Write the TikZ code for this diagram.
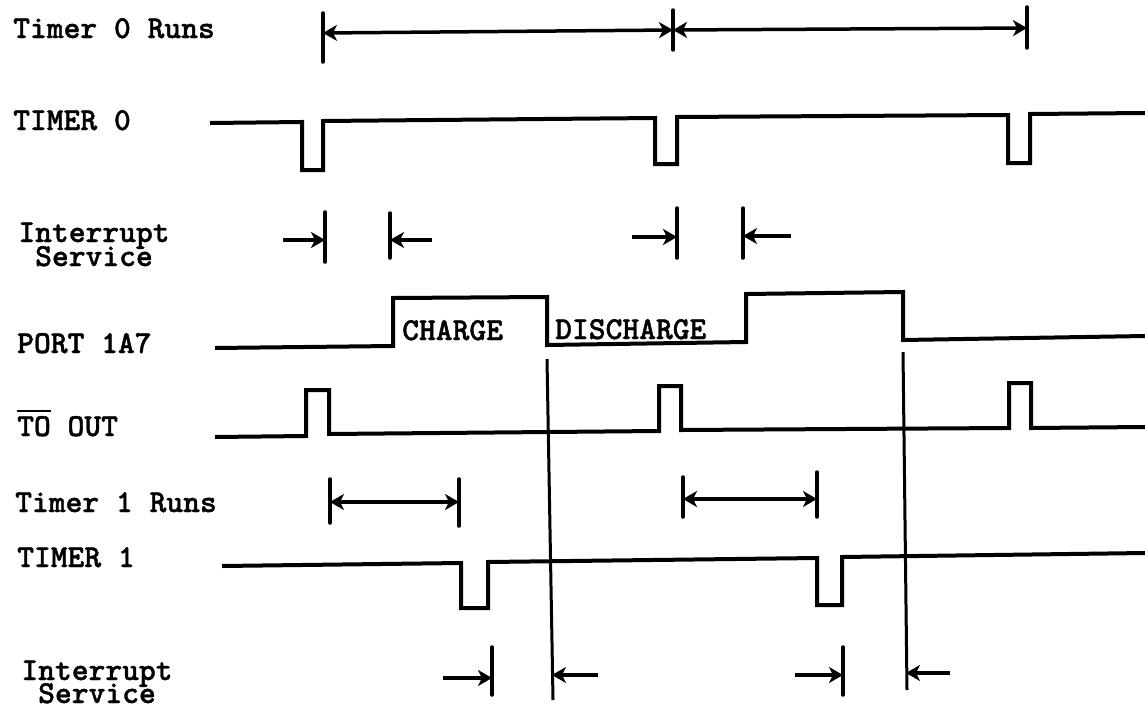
\documentclass[tikz,border=0pt]{standalone}
\usepackage{fontspec}
\usetikzlibrary{arrows.meta}
\newfontfamily\lblface{lmmonolt10-bold.otf}[FakeBold=1.2]
\newcommand\lblfont{\fontsize{32}{17}\selectfont\lblface}
\begin{document}
\begin{tikzpicture}[x=1pt,y=-1pt,
  sig/.style={line width=4pt, line join=miter},
  tickln/.style={line width=3.5pt, line cap=round},
  vline/.style={line width=3pt},
  headtip/.tip={Stealth[length=14pt,width=16pt,inset=4pt]},
  dimto/.style={line width=3.5pt, -headtip},
  dimboth/.style={line width=3.5pt, headtip-headtip},
  lbl/.style={anchor=base west, inner sep=0pt, font=\lblfont},
  ctr/.style={anchor=base, inner sep=0pt, font=\lblfont}
]
\fill[white] (0,0) rectangle (1145,712);
\useasboundingbox (0,0) rectangle (1145,712);

% ---------- labels ----------
\node[lbl] (lT0R) at (13,38) {Timer 0 Runs};
\node[lbl] (lT0) at (13,130) {TIMER 0};
\node[ctr] (lIS1a) at (94,242) {Interrupt};
\node[ctr] (lIS1b) at (94,266) {Service};
\node[lbl] (lP) at (17,353) {PORT 1A7};
\node[lbl] (lTO) at (17,436) {\rlap{\rule[24pt]{33.6pt}{2.5pt}}TO OUT};
\node[lbl] (lT1R) at (15,512) {Timer 1 Runs};
\node[lbl] (lT1) at (17,567) {TIMER 1};
\node[ctr] (lIS2a) at (97,680) {Interrupt};
\node[ctr] (lIS2b) at (97,703) {Service};
\node[lbl] (lCH) at (402,340) {CHARGE};
\node[lbl] (lDC) at (555,339) {DISCHARGE};

% ---------- Timer 0 Runs ----------
\coordinate (t0a) at (323,33);
\coordinate (t0b) at (673,30);
\coordinate (t0c) at (1027,28);
\draw[tickln] (323,13) -- (323,62);
\draw[tickln] (673,10) -- (673,50);
\draw[tickln] (1027,7) -- (1027,48);
\draw[dimboth] (t0a) -- (t0b);
\draw[dimboth] (t0b) -- (t0c);

% ---------- TIMER 0 ----------
\draw[sig] (210,123) -- (302,122) -- (302,170) -- (323,170) -- (323,121)
  -- (655,118) -- (655,164) -- (677,164) -- (677,117)
  -- (1008,115) -- (1008,163) -- (1030,163) -- (1030,114) -- (1145,113);

% ---------- Interrupt Service (top) ----------
\coordinate (i1a) at (283,240); \coordinate (i1b) at (325,240);
\coordinate (i1c) at (390,240); \coordinate (i1d) at (432,240);
\coordinate (i2a) at (632,237); \coordinate (i2b) at (677,237);
\coordinate (i2c) at (743,236); \coordinate (i2d) at (791,236);
\draw[tickln] (325,212) -- (325,262);
\draw[tickln] (390,213) -- (390,258);
\draw[tickln] (677,208) -- (677,258);
\draw[tickln] (743,208) -- (743,258);
\draw[dimto] (i1a) -- (i1b);
\draw[dimto] (i1d) -- (i1c);
\draw[dimto] (i2a) -- (i2b);
\draw[dimto] (i2d) -- (i2c);

% ---------- PORT 1A7 ----------
\draw[sig] (215,348) -- (393,346) -- (393,298) -- (547,297) -- (547,345)
  -- (746,342) -- (746,294) -- (903,292) -- (903,340) -- (1145,336);

% ---------- vertical markers ----------
\coordinate (v1t) at (547,359); \coordinate (v1b) at (553,700);
\coordinate (v2t) at (903,352); \coordinate (v2b) at (907,690);
\draw[vline] (v1t) -- (v1b);
\draw[vline] (v2t) -- (v2b);

% ---------- TO OUT ----------
\draw[sig] (215,437) -- (306,436) -- (306,390) -- (329,390) -- (329,434)
  -- (659,431) -- (659,386) -- (681,386) -- (681,430)
  -- (1009,428) -- (1009,383) -- (1031,383) -- (1031,428) -- (1145,427);

% ---------- Timer 1 Runs ----------
\coordinate (r1a) at (330,502); \coordinate (r1b) at (459,502);
\coordinate (r2a) at (683,499); \coordinate (r2b) at (817,499);
\draw[tickln] (330,479) -- (330,523);
\draw[tickln] (459,479) -- (459,526);
\draw[tickln] (683,477) -- (683,517);
\draw[tickln] (817,472) -- (817,517);
\draw[dimboth] (r1a) -- (r1b);
\draw[dimboth] (r2a) -- (r2b);

% ---------- TIMER 1 ----------
\draw[sig] (222,566) -- (461,563) -- (461,608) -- (488,608) -- (488,562)
  -- (817,558) -- (817,605) -- (842,605) -- (842,557) -- (1145,553);

% ---------- Interrupt Service (bottom) ----------
\coordinate (j1a) at (443,678); \coordinate (j1b) at (492,678);
\coordinate (j1c) at (552,675); \coordinate (j1d) at (598,675);
\coordinate (j2a) at (795,675); \coordinate (j2b) at (843,675);
\coordinate (j2c) at (906,673); \coordinate (j2d) at (950,673);
\draw[tickln] (492,647) -- (492,695);
\draw[tickln] (843,647) -- (843,695);
\draw[dimto] (j1a) -- (j1b);
\draw[dimto] (j1d) -- (j1c);
\draw[dimto] (j2a) -- (j2b);
\draw[dimto] (j2d) -- (j2c);
\end{tikzpicture}
\end{document}
